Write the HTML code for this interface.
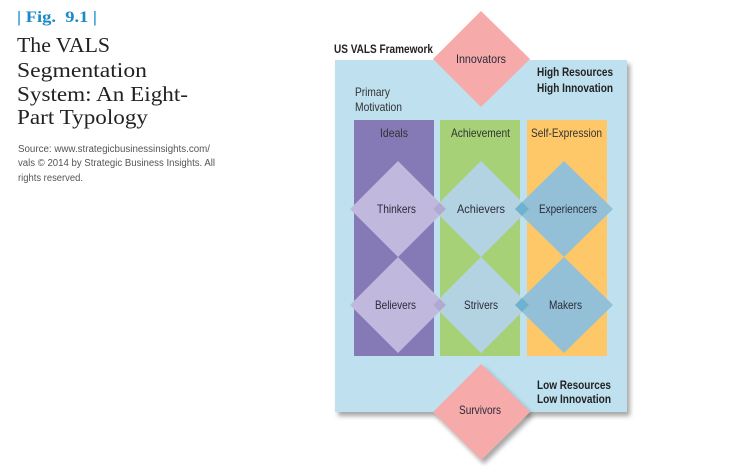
<!DOCTYPE html>
<html><head><meta charset="utf-8"><style>
html,body{margin:0;padding:0;background:#fff;}
svg{display:block;}
.n{font-family:"Liberation Sans Narrow","Liberation Sans",sans-serif;}
.s{font-family:"Liberation Serif",serif;}
</style></head><body>
<svg width="731" height="466" viewBox="0 0 731 466" xmlns="http://www.w3.org/2000/svg">
<defs>
<filter id="sh" x="-10%" y="-10%" width="130%" height="130%"><feDropShadow dx="3" dy="4" stdDeviation="2.5" flood-color="#000" flood-opacity="0.35"/></filter>
</defs>
<!-- left text -->
<text x="17" y="22" class="s" font-size="16" font-weight="bold" fill="#1a8ac6" textLength="80" lengthAdjust="spacingAndGlyphs">| Fig.&#160; 9.1 |</text>
<g class="s" font-size="21" fill="#222">
<text x="17" y="52" textLength="93" lengthAdjust="spacingAndGlyphs">The VALS</text>
<text x="17" y="77" textLength="130" lengthAdjust="spacingAndGlyphs">Segmentation</text>
<text x="17" y="101" textLength="171" lengthAdjust="spacingAndGlyphs">System: An Eight-</text>
<text x="17" y="124" textLength="131" lengthAdjust="spacingAndGlyphs">Part Typology</text>
</g>
<g class="n" font-size="10" fill="#555">
<text x="18" y="152" textLength="192" lengthAdjust="spacingAndGlyphs">Source: www.strategicbusinessinsights.com/</text>
<text x="18" y="166" textLength="197" lengthAdjust="spacingAndGlyphs">vals © 2014 by Strategic Business Insights. All</text>
<text x="18" y="181" textLength="65" lengthAdjust="spacingAndGlyphs">rights reserved.</text>
</g>

<!-- framework -->
<text x="334" y="53" class="n" font-size="12" font-weight="bold" fill="#222" textLength="99" lengthAdjust="spacingAndGlyphs">US VALS Framework</text>
<rect x="335" y="60" width="292" height="352" fill="#bee0ef" filter="url(#sh)"/>
<rect x="354" y="120" width="80" height="236" fill="#8579b6"/>
<rect x="440" y="120" width="80" height="236" fill="#a6d177"/>
<rect x="527" y="120" width="80" height="236" fill="#fec868"/>

<g class="n" font-size="12" fill="#333">
<text x="355" y="96" textLength="35" lengthAdjust="spacingAndGlyphs">Primary</text>
<text x="355" y="111" textLength="47" lengthAdjust="spacingAndGlyphs">Motivation</text>
<text x="380" y="137" textLength="28" lengthAdjust="spacingAndGlyphs">Ideals</text>
<text x="451" y="137" textLength="59" lengthAdjust="spacingAndGlyphs">Achievement</text>
<text x="531" y="137" textLength="71" lengthAdjust="spacingAndGlyphs">Self-Expression</text>
</g>
<g class="n" font-size="12" font-weight="bold" fill="#222">
<text x="537" y="76" textLength="76" lengthAdjust="spacingAndGlyphs">High Resources</text>
<text x="537" y="92" textLength="76" lengthAdjust="spacingAndGlyphs">High Innovation</text>
<text x="537" y="389" textLength="74" lengthAdjust="spacingAndGlyphs">Low Resources</text>
<text x="537" y="403" textLength="74" lengthAdjust="spacingAndGlyphs">Low Innovation</text>
</g>

<!-- diamonds -->
<polygon points="398,161 446,209 398,257 350,209" fill="#c0b9dd"/>
<polygon points="398,257 446,305 398,353 350,305" fill="#c0b9dd"/>
<polygon points="481,161 529,209 481,257 433,209" fill="#b3d3e3"/>
<polygon points="481,257 529,305 481,353 433,305" fill="#b3d3e3"/>
<polygon points="564,161 613,209 564,257 515,209" fill="#93c0d6"/>
<polygon points="564,257 613,305 564,353 515,305" fill="#93c0d6"/>
<polygon points="439.5,202.5 446,209 439.5,215.5 433,209" fill="#b1a9d2"/>
<polygon points="439.5,298.5 446,305 439.5,311.5 433,305" fill="#b1a9d2"/>
<polygon points="522,202 529,209 522,216 515,209" fill="#70b2cd"/>
<polygon points="522,298 529,305 522,312 515,305" fill="#70b2cd"/>
<polygon points="481,11 530,59 481,107 433,59" fill="#f6aaaa"/>
<polygon points="481,364 530,412 481,460 433,412" fill="#f6aaaa" filter="url(#sh)"/>

<g class="n" font-size="12" fill="#2a2a3a">
<text x="377" y="213" textLength="39" lengthAdjust="spacingAndGlyphs">Thinkers</text>
<text x="457" y="213" textLength="48" lengthAdjust="spacingAndGlyphs">Achievers</text>
<text x="539" y="213" textLength="58" lengthAdjust="spacingAndGlyphs">Experiencers</text>
<text x="375" y="309" textLength="41" lengthAdjust="spacingAndGlyphs">Believers</text>
<text x="464" y="309" textLength="34" lengthAdjust="spacingAndGlyphs">Strivers</text>
<text x="549" y="309" textLength="33" lengthAdjust="spacingAndGlyphs">Makers</text>
<text x="456" y="63" textLength="50" lengthAdjust="spacingAndGlyphs">Innovators</text>
<text x="459" y="414" textLength="42" lengthAdjust="spacingAndGlyphs">Survivors</text>
</g>
</svg>
</body></html>
